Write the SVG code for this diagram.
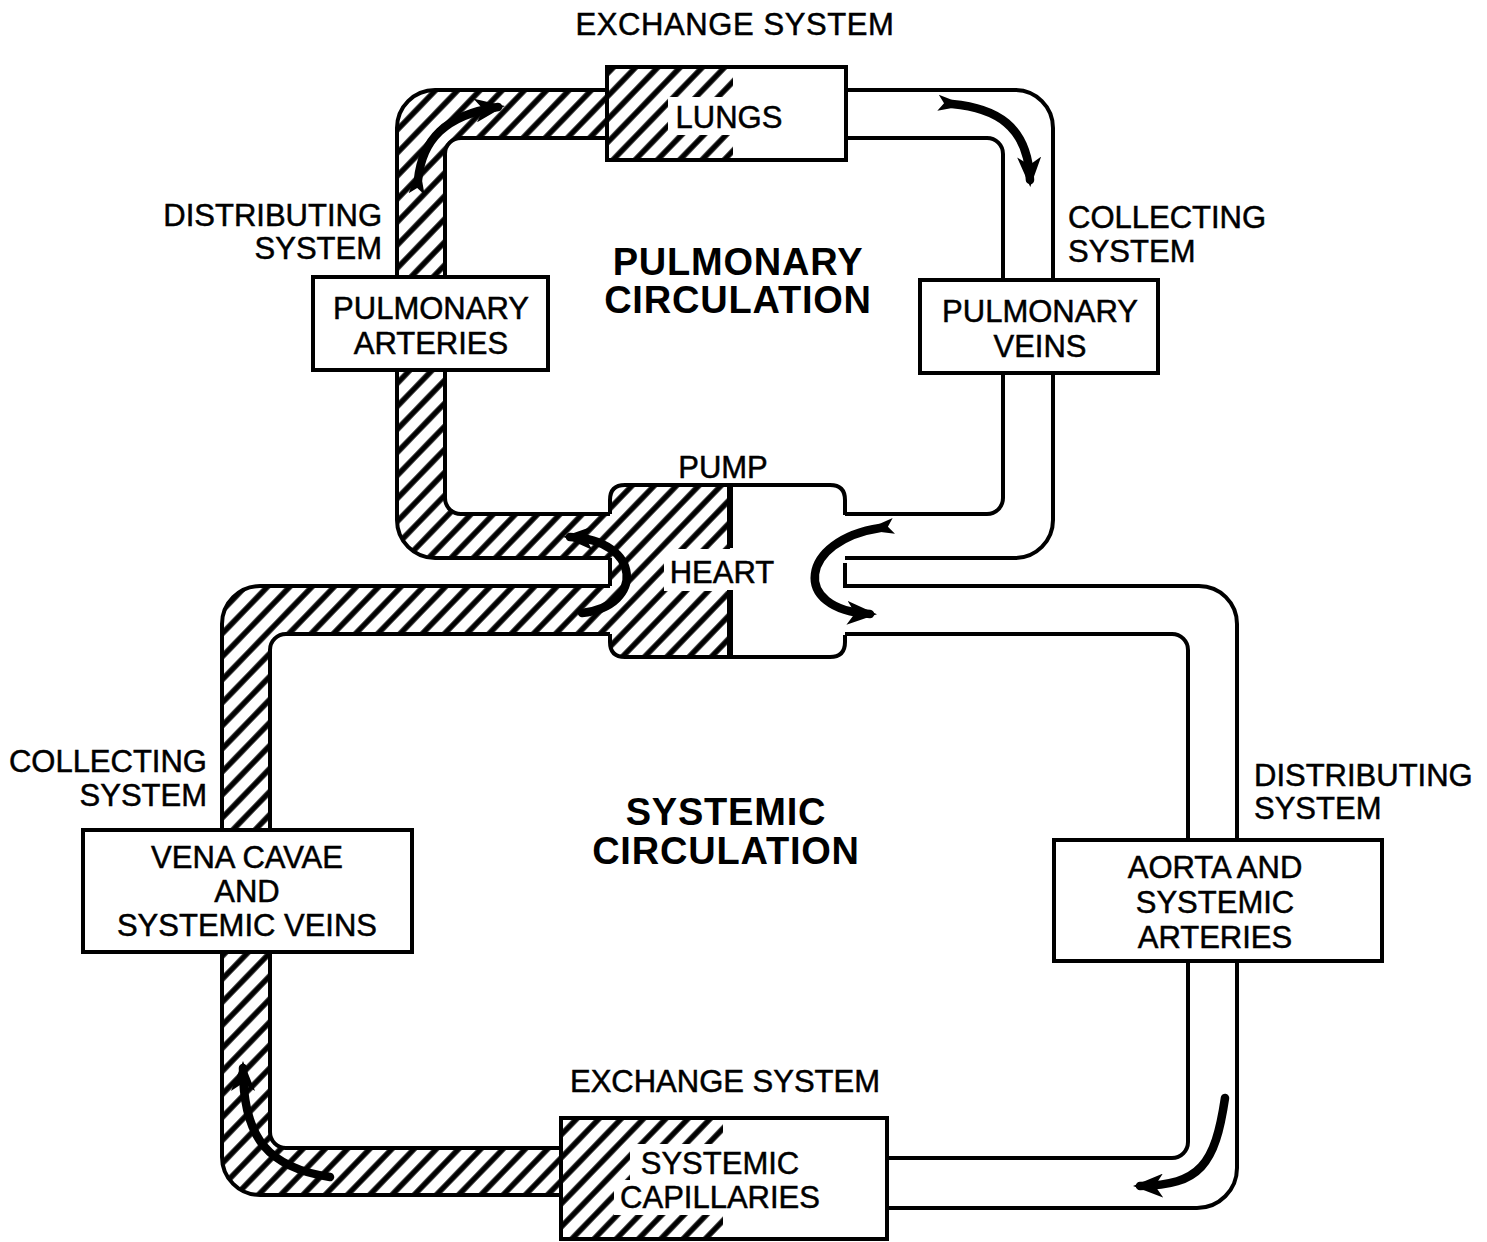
<svg xmlns="http://www.w3.org/2000/svg" width="1487" height="1242" viewBox="0 0 1487 1242">
<style>
.t{font-family:"Liberation Sans",Arial,sans-serif;font-size:31px;fill:#000;stroke:#000;stroke-width:0.5}
.c{text-anchor:middle}
.e{text-anchor:end}
.b{font-family:"Liberation Sans",Arial,sans-serif;font-size:38px;font-weight:bold;fill:#000;text-anchor:middle;letter-spacing:0.8px}
.wall{fill:none;stroke:#000;stroke-width:4}
.box{fill:#fff;stroke:#000;stroke-width:4}
.arr{fill:none;stroke:#000;stroke-width:8.5;stroke-linecap:round}
</style>
<defs>
<pattern id="hatch" patternUnits="userSpaceOnUse" width="16" height="16" patternTransform="rotate(44)">
<rect width="16" height="16" fill="#fff"/>
<line x1="8" y1="-1" x2="8" y2="17" stroke="#000" stroke-width="5.5"/>
</pattern>
<clipPath id="cpP"><rect x="0" y="0" width="720" height="600"/></clipPath>
<clipPath id="cpS"><rect x="0" y="570" width="700" height="700"/></clipPath>
<marker id="ah" viewBox="0 0 30 24" refX="23" refY="12" markerWidth="30" markerHeight="24" orient="auto" markerUnits="userSpaceOnUse"><path d="M0,0 L30,12 L0,24 L8,12 Z" fill="#000"/></marker>
<marker id="tl" viewBox="0 0 20 20" refX="14" refY="10" markerWidth="20" markerHeight="20" orient="auto" markerUnits="userSpaceOnUse"><path d="M0,2 L16,6.5 L16,13.5 L0,18 L6,10 Z" fill="#000"/></marker>
</defs>
<rect width="1487" height="1242" fill="#fff"/>

<g id="connectors">
<g id="pulmonary-loop">
<path d="M397,128 A38,38 0 0 1 435,90 L1015,90 A38,38 0 0 1 1053,128 L1053,520 A38,38 0 0 1 1015,558 L435,558 A38,38 0 0 1 397,520 Z M445,154 A16,16 0 0 1 461,138 L987,138 A16,16 0 0 1 1003,154 L1003,498 A16,16 0 0 1 987,514 L461,514 A16,16 0 0 1 445,498 Z" fill="#fff" fill-rule="evenodd"/>
<path clip-path="url(#cpP)" d="M397,128 A38,38 0 0 1 435,90 L1015,90 A38,38 0 0 1 1053,128 L1053,520 A38,38 0 0 1 1015,558 L435,558 A38,38 0 0 1 397,520 Z M445,154 A16,16 0 0 1 461,138 L987,138 A16,16 0 0 1 1003,154 L1003,498 A16,16 0 0 1 987,514 L461,514 A16,16 0 0 1 445,498 Z" fill="url(#hatch)" fill-rule="evenodd"/>
<path class="wall" d="M397,128 A38,38 0 0 1 435,90 L1015,90 A38,38 0 0 1 1053,128 L1053,520 A38,38 0 0 1 1015,558 L435,558 A38,38 0 0 1 397,520 Z"/>
<path class="wall" d="M445,154 A16,16 0 0 1 461,138 L987,138 A16,16 0 0 1 1003,154 L1003,498 A16,16 0 0 1 987,514 L461,514 A16,16 0 0 1 445,498 Z"/>
</g>
<g id="systemic-loop">
<path d="M222,624 A38,38 0 0 1 260,586 L1199,586 A38,38 0 0 1 1237,624 L1237,1168 A40,40 0 0 1 1197,1208 L720,1208 L720,1195 L260,1195 A38,38 0 0 1 222,1157 Z M270,650 A16,16 0 0 1 286,634 L1172,634 A16,16 0 0 1 1188,650 L1188,1142 A16,16 0 0 1 1172,1158 L720,1158 L720,1148 L286,1148 A16,16 0 0 1 270,1132 Z" fill="#fff" fill-rule="evenodd"/>
<path clip-path="url(#cpS)" d="M222,624 A38,38 0 0 1 260,586 L1199,586 A38,38 0 0 1 1237,624 L1237,1168 A40,40 0 0 1 1197,1208 L720,1208 L720,1195 L260,1195 A38,38 0 0 1 222,1157 Z M270,650 A16,16 0 0 1 286,634 L1172,634 A16,16 0 0 1 1188,650 L1188,1142 A16,16 0 0 1 1172,1158 L720,1158 L720,1148 L286,1148 A16,16 0 0 1 270,1132 Z" fill="url(#hatch)" fill-rule="evenodd"/>
<path class="wall" d="M222,624 A38,38 0 0 1 260,586 L1199,586 A38,38 0 0 1 1237,624 L1237,1168 A40,40 0 0 1 1197,1208 L720,1208 L720,1195 L260,1195 A38,38 0 0 1 222,1157 Z"/>
<path class="wall" d="M270,650 A16,16 0 0 1 286,634 L1172,634 A16,16 0 0 1 1188,650 L1188,1142 A16,16 0 0 1 1172,1158 L720,1158 L720,1148 L286,1148 A16,16 0 0 1 270,1132 Z"/>
</g>
</g>

<g id="heart">
<rect x="610" y="485" width="235" height="172" rx="15" fill="#fff"/>
<path d="M730,485 L625,485 Q610,485 610,500 L610,642 Q610,657 625,657 L730,657 Z" fill="url(#hatch)"/>
<rect x="664" y="549" width="66" height="42" fill="#fff"/>
<line x1="730" y1="486" x2="730" y2="548" stroke="#000" stroke-width="6"/>
<line x1="730" y1="590" x2="730" y2="656" stroke="#000" stroke-width="6"/>
<path class="wall" d="M610,514 L610,500 Q610,485 625,485 L830,485 Q845,485 845,500 L845,515 M845,563 L845,588 M845,635 L845,642 Q845,657 830,657 L625,657 Q610,657 610,642 L610,634 M610,558 L610,586"/>
<text class="t c" x="722" y="583">HEART</text>
</g>

<g id="lungs">
<rect class="box" x="607" y="67" width="239" height="93"/>
<rect x="609" y="69" width="124" height="89" fill="url(#hatch)"/>
<rect x="668" y="97" width="66" height="38" fill="#fff"/>
<rect class="wall" x="607" y="67" width="239" height="93"/>
<text class="t c" x="729" y="128">LUNGS</text>
</g>

<g id="capillaries">
<rect class="box" x="561" y="1118" width="326" height="121"/>
<rect x="563" y="1120" width="160" height="117" fill="url(#hatch)"/>
<rect x="630" y="1144" width="95" height="36" fill="#fff"/>
<rect x="614" y="1180" width="111" height="35" fill="#fff"/>
<rect class="wall" x="561" y="1118" width="326" height="121"/>
<text class="t c" x="720" y="1174">SYSTEMIC</text>
<text class="t c" x="720" y="1208">CAPILLARIES</text>
</g>

<g id="pulmonary-arteries">
<rect class="box" x="313" y="277" width="235" height="93"/>
<text class="t c" x="431" y="319">PULMONARY</text>
<text class="t c" x="431" y="354">ARTERIES</text>
</g>

<g id="pulmonary-veins">
<rect class="box" x="920" y="280" width="238" height="93"/>
<text class="t c" x="1040" y="322">PULMONARY</text>
<text class="t c" x="1040" y="357">VEINS</text>
</g>

<g id="vena-cavae">
<rect class="box" x="83" y="830" width="329" height="122"/>
<text class="t c" x="247" y="868">VENA CAVAE</text>
<text class="t c" x="247" y="902">AND</text>
<text class="t c" x="247" y="936">SYSTEMIC VEINS</text>
</g>

<g id="aorta">
<rect class="box" x="1054" y="840" width="328" height="121"/>
<text class="t c" x="1215" y="878">AORTA AND</text>
<text class="t c" x="1215" y="913">SYSTEMIC</text>
<text class="t c" x="1215" y="948">ARTERIES</text>
</g>

<g id="arrows">
<path class="arr" d="M418,180 C422,140 445,115 498,107" marker-end="url(#ah)" marker-start="url(#tl)"/>
<path class="arr" d="M952,104 C995,108 1028,125 1030,180" marker-end="url(#ah)" marker-start="url(#tl)"/>
<path class="arr" d="M582,613 C645,606 642,540 570,537" marker-end="url(#ah)"/>
<path class="arr" d="M880,528 C800,540 790,610 870,614" marker-end="url(#ah)" marker-start="url(#tl)"/>
<path class="arr" d="M1225,1098 C1215,1165 1200,1185 1140,1186" marker-end="url(#ah)"/>
<path class="arr" d="M330,1177 C270,1168 243,1140 243,1068" marker-end="url(#ah)"/>
</g>

<g id="labels">
<text class="t c" x="735" y="35" letter-spacing="0.6">EXCHANGE SYSTEM</text>
<text class="t e" x="382" y="226">DISTRIBUTING</text>
<text class="t e" x="382" y="259">SYSTEM</text>
<text class="t" x="1068" y="228">COLLECTING</text>
<text class="t" x="1068" y="262">SYSTEM</text>
<text class="b" x="738" y="275">PULMONARY</text>
<text class="b" x="738" y="313">CIRCULATION</text>
<text class="t c" x="723" y="478">PUMP</text>
<text class="t e" x="207" y="772">COLLECTING</text>
<text class="t e" x="207" y="806">SYSTEM</text>
<text class="b" x="726" y="825">SYSTEMIC</text>
<text class="b" x="726" y="864">CIRCULATION</text>
<text class="t" x="1254" y="786">DISTRIBUTING</text>
<text class="t" x="1254" y="819">SYSTEM</text>
<text class="t c" x="725" y="1092">EXCHANGE SYSTEM</text>
</g>
</svg>
